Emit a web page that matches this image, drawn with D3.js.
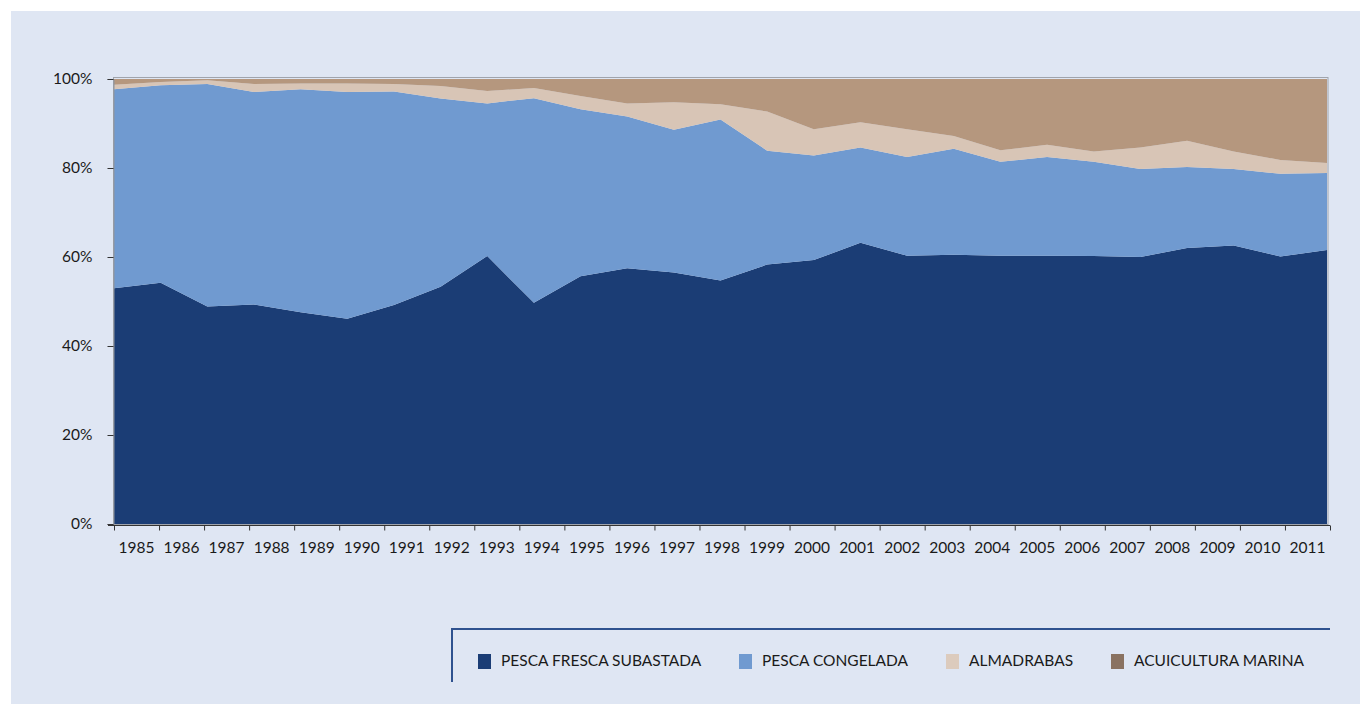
<!DOCTYPE html>
<html><head><meta charset="utf-8">
<script src="https://cdn.jsdelivr.net/npm/d3@7"></script>
<style>body{margin:0;background:#fff;}svg{display:block;font-family:Lato,"Open Sans",sans-serif;}</style>
</head><body>
<svg id="c" width="1360" height="704"></svg>
<script>
const years = [1985,1986,1987,1988,1989,1990,1991,1992,1993,1994,1995,1996,1997,1998,1999,2000,2001,2002,2003,2004,2005,2006,2007,2008,2009,2010,2011];
const seriesNames = ["PESCA FRESCA SUBASTADA","PESCA CONGELADA","ALMADRABAS","ACUICULTURA MARINA"];
const pescaFresca = [53.0,54.2,48.9,49.3,47.6,46.1,49.2,53.3,60.2,49.7,55.7,57.5,56.5,54.7,58.3,59.3,63.2,60.3,60.5,60.3,60.3,60.2,60.0,62.0,62.6,60.1,61.6];
const pescaCongelada = [44.7,44.4,50.0,47.8,50.1,51.0,48.0,42.3,34.3,46.0,37.5,34.1,32.1,36.2,25.6,23.5,21.4,22.2,23.8,21.1,22.2,21.2,19.8,18.2,17.2,18.6,17.3];
const almadrabas = [1.0,0.7,0.8,1.8,1.3,1.9,1.7,2.8,2.8,2.3,3.0,2.9,6.2,3.4,8.8,5.9,5.7,6.2,2.9,2.6,2.7,2.3,4.8,5.9,3.9,3.1,2.2];
const acuicultura = [1.3,0.7,0.3,1.1,1.0,1.0,1.1,1.6,2.7,2.0,3.8,5.5,5.2,5.7,7.3,11.3,9.7,11.3,12.8,16.0,14.8,16.3,15.4,13.9,16.3,18.2,18.9];
const yTicks = [0,0.2,0.4,0.6,0.8,1.0];

const areaColors = ["#1B3D75","#709AD0","#D8C5B6","#B5977E"];
const legendColors = ["#1B3D75","#709AD0","#DCCBBD","#8A7261"];

const svg = d3.select("#c");
svg.append("rect").attr("x",11).attr("y",11).attr("width",1349).attr("height",693).attr("fill","#DFE6F3");

const table = years.map((y,i)=>({year:y, s0:pescaFresca[i], s1:pescaCongelada[i], s2:almadrabas[i], s3:acuicultura[i]}));
const keys = ["s0","s1","s2","s3"];
const stack = d3.stack().keys(keys).offset(d3.stackOffsetExpand);
const layers = stack(table);

const L=114, R=1327, T=79, B=524;
const xPt = d3.scalePoint().domain(years).range([L,R]);
const xBand = d3.scaleBand().domain(years).range([114,1330]);
const y = d3.scaleLinear().domain([0,1]).range([B,T]);

const area = d3.area().x(d=>xPt(d.data.year)).y0(d=>y(d[0])).y1(d=>y(d[1]));
svg.append("g").selectAll("path").data(layers).join("path")
  .attr("d",area).attr("fill",(d,i)=>areaColors[i]);

// plot border
svg.append("rect").attr("x",113.5).attr("y",77.5).attr("width",R-113+0.5).attr("height",B-77).attr("fill","none").attr("stroke","#A0A4AC").attr("stroke-width",1);

// y axis
const yAxis = d3.axisLeft(y).tickValues(yTicks).tickFormat(d3.format(".0%")).tickSize(6).tickPadding(15);
const gy = svg.append("g").attr("transform","translate(113.5,0)").call(yAxis);
gy.select(".domain").attr("stroke","#8E939B");
gy.selectAll(".tick line").attr("stroke","#333");
gy.selectAll("text").attr("font-size",15.5).attr("fill","#1a1a1a").attr("font-family","Lato,sans-serif");

// x axis
const xAxis = d3.axisBottom(xBand).tickSize(0).tickPadding(16);
const gx = svg.append("g").attr("transform","translate(0,525.5)").call(xAxis);
gx.select(".domain").attr("stroke","#333").attr("d","M108,0H1330");
gx.selectAll("text").attr("font-size",15.5).attr("fill","#1a1a1a").attr("font-family","Lato,sans-serif");
const tickPos = years.map(yr=>xBand(yr)).concat([xBand.range()[1]]);
gx.append("g").selectAll("line").data(tickPos).join("line")
  .attr("x1",d=>d+0.5).attr("x2",d=>d+0.5).attr("y1",0).attr("y2",5).attr("stroke","#333");

// legend
const lg = svg.append("g");
lg.append("path").attr("d","M452,682V629H1330").attr("fill","none").attr("stroke","#2F528F").attr("stroke-width",2);
const legX = [478,739,946,1111];
seriesNames.forEach((n,i)=>{
  lg.append("rect").attr("x",legX[i]).attr("y",654).attr("width",13).attr("height",15).attr("fill",legendColors[i]);
  lg.append("text").attr("x",legX[i]+23).attr("y",661).attr("dy","0.35em").attr("font-size",15.5).attr("fill","#1a1a1a").text(n);
});
</script>
</body></html>
